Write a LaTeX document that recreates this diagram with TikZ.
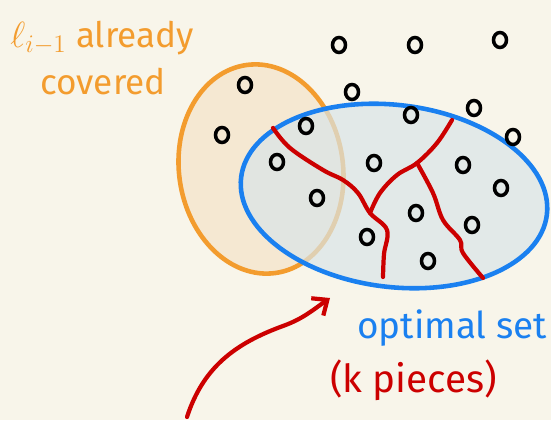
\documentclass[tikz,border=0pt]{standalone}
\usepackage{fontspec}
\setmainfont{Fira Sans}
\usetikzlibrary{arrows.meta}
\definecolor{paper}{HTML}{F8F5EA}
\definecolor{oran}{HTML}{F39C2E}
\definecolor{oranfill}{HTML}{F5E8D2}
\definecolor{blueline}{HTML}{1A80F0}
\definecolor{bluefill}{HTML}{D9E5E8}
\definecolor{cutred}{HTML}{CC0000}

\begin{document}
\begin{tikzpicture}[x=0.02cm, y=0.02cm,
    dot/.style={draw=black, line width=2pt},
    cut/.style={draw=cutred, line width=2.4pt, line cap=round, line join=round},
    lbl/.style={font=\fontsize{20}{22}\selectfont, anchor=west, inner sep=0pt}
]
\fill[paper] (0,0) rectangle (551,420);
\useasboundingbox (0,0) rectangle (551,420);

% covered part and optimal set
\filldraw[fill=oranfill, draw=oran, line width=2.6pt, rotate around={8:(261,251)}] (261,251) ellipse [x radius=82, y radius=105];
\filldraw[fill=bluefill, fill opacity=0.7, draw=blueline, line width=2.6pt, rotate around={-7:(394,224)}] (394,224) ellipse [x radius=154, y radius=91];

% points
\foreach \p in {(339,375),(415,375),(500,380),(245,335),(352,328),(222,285),(306,294),
    (411,305),(474,312),(513,283),(277,258),(374,257),(463,255),(501,232),(317,222),
    (416,207),(472,195),(367,183),(428,159)}
  \draw[dot] \p ellipse [x radius=6.5, y radius=7.5];

% cuts into pieces
\draw[cut] plot[smooth, tension=0.6] coordinates {(273,292) (290,272) (323,250) (343,240) (358,227) (370,207) (387,190) (384,166) (383,143)};
\draw[cut] plot[smooth, tension=0.6] coordinates {(452,300) (437,277) (417,257) (397,245) (380,227) (370,207)};
\draw[cut] plot[smooth, tension=0.6] coordinates {(417,257) (433,227) (443,200) (460,180) (463,167) (483,142)};

\node[lbl, text=oran] (coveredA) at (10,382) {$\ell_{i-1}$ already};
\node[lbl, text=oran] (coveredB) at (40,338) {covered};
\node[lbl, text=blueline, font=\fontsize{21}{24}\selectfont] (optLbl) at (357,92) {optimal set};
\node[lbl, text=cutred, font=\fontsize{22}{24}\selectfont] (kLbl) at (330,40) {(k pieces)};

\coordinate (arrTail) at (187,3);
\coordinate (arrHead) at (330,122);
\draw[cut, -{Straight Barb[length=7pt, width=12pt]}] (arrTail) to[out=72, in=200] (283,94) to[out=20, in=215] (arrHead);
\end{tikzpicture}
\end{document}
